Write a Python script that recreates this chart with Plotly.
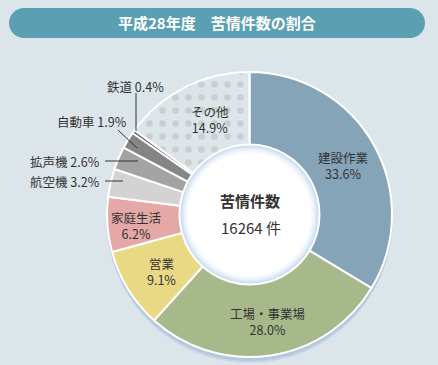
import plotly.graph_objects as go

# ---- data ----
categories = ["建設作業", "工場・事業場", "営業", "家庭生活", "航空機", "拡声機", "自動車", "鉄道", "その他"]
shares = [33.6, 28.0, 9.1, 6.2, 3.2, 2.6, 1.9, 0.4, 14.9]
total_cases = 16264
title_text = "平成28年度　苦情件数の割合"
center_title = "苦情件数"

# ---- style ----
W, H = 438, 365
CX, CY, R, RH = 249.5, 214.5, 142.5, 70
BG = "#dbe5ea"
colors = ["#85a4b8", "#a7b98b", "#e9d884", "#e4a8a7", "#d3d3d3", "#a3a3a3", "#858585", "#5f5f5f", "#ffffff"]
patterns = ["", "", "", "", "", "", "", "", "."]
FONT = "Noto Sans CJK JP"
TXT = "#333333"

def px(x):
    return x / W

def py(y):
    return 1 - y / H

fig = go.Figure(go.Pie(
    labels=categories,
    values=shares,
    sort=False,
    direction="clockwise",
    rotation=0,
    hole=RH / R,
    textinfo="none",
    hoverinfo="skip",
    showlegend=False,
    marker=dict(
        colors=colors,
        line=dict(color="white", width=2),
        pattern=dict(shape=patterns, fgcolor="#cdcdcd", size=13, solidity=0.2),
    ),
    domain=dict(x=[px(CX - R), px(CX + R)], y=[py(CY + R), py(CY - R)]),
))

shapes = []
# shadow under pie
for dy, rr, col in [(6, R, "rgba(160,190,215,0.35)"), (3, R + 1, "rgba(140,172,205,0.35)")]:
    shapes.append(dict(type="circle", xref="paper", yref="paper", layer="below",
                       x0=px(CX - rr), x1=px(CX + rr), y0=py(CY + dy + rr), y1=py(CY + dy - rr),
                       fillcolor=col, line=dict(width=0)))
# white hole with soft blue glow at the rim
for rr, col in [(RH + 1, "#c6daee"), (RH - 2, "#d9e7f5"), (RH - 4, "#e9f1fa"), (RH - 6, "#f5f9fd"), (RH - 8, "#ffffff")]:
    shapes.append(dict(type="circle", xref="paper", yref="paper", layer="below",
                       x0=px(CX - rr), x1=px(CX + rr), y0=py(CY + rr), y1=py(CY - rr),
                       fillcolor=col, line=dict(width=0)))

# title pill
x0, x1, y0, y1 = 9, 425, 8, 38
r = (y1 - y0) / 2
k = 0.5523 * r
def P(x, y):
    return f"{px(x):.5f},{py(y):.5f}"
path = (f"M {P(x0 + r, y0)} L {P(x1 - r, y0)} "
        f"C {P(x1 - r + k, y0)} {P(x1, y0 + r - k)} {P(x1, y0 + r)} "
        f"C {P(x1, y1 - r + k)} {P(x1 - r + k, y1)} {P(x1 - r, y1)} "
        f"L {P(x0 + r, y1)} "
        f"C {P(x0 + r - k, y1)} {P(x0, y1 - r + k)} {P(x0, y1 - r)} "
        f"C {P(x0, y0 + r - k)} {P(x0 + r - k, y0)} {P(x0 + r, y0)} Z")
shapes.append(dict(type="path", xref="paper", yref="paper", path=path,
                   fillcolor="#5b9fb3", line=dict(width=0), layer="below"))

# leader lines for small slices
leader_lines = {
    "鉄道": [(136, 93), (136, 131)],
    "自動車": [(118, 130), (137, 148)],
    "拡声機": [(105, 161), (138, 161)],
    "航空機": [(105, 181), (123, 181)],
}
for (ax, ay), (bx, by) in leader_lines.values():
    shapes.append(dict(type="line", xref="paper", yref="paper",
                       x0=px(ax), y0=py(ay), x1=px(bx), y1=py(by),
                       line=dict(color=TXT, width=1)))

def ann(x, y, text, size, color=TXT, xanchor="center"):
    return dict(x=px(x), y=py(y), xref="paper", yref="paper", text=text,
                showarrow=False, xanchor=xanchor, yanchor="middle", align="center",
                font=dict(family=FONT, size=size, color=color))

annotations = [
    ann(217, 23, f"<b>{title_text}</b>", 15, "white"),
    ann(250, 200, f"<b>{center_title}</b>", 15),
    ann(251, 227, f"{total_cases} 件", 15),
]

inside_pos = {
    "建設作業": (343, 165),
    "工場・事業場": (267, 321),
    "営業": (161, 271),
    "家庭生活": (136, 225),
    "その他": (210, 119),
}
outside_pos = {
    "鉄道": (135, 86, "center"),
    "自動車": (129, 121, "right"),
    "拡声機": (102, 161, "right"),
    "航空機": (102, 181, "right"),
}
for cat, val in zip(categories, shares):
    if cat in inside_pos:
        x, y = inside_pos[cat]
        annotations.append(ann(x, y, f"{cat}<br>{val:.1f}%", 12.5))
    else:
        x, y, anc = outside_pos[cat]
        annotations.append(ann(x, y, f"{cat} {val:.1f}%", 12.5, xanchor=anc))

fig.update_layout(
    width=W, height=H,
    margin=dict(l=0, r=0, t=0, b=0),
    paper_bgcolor=BG, plot_bgcolor=BG,
    shapes=shapes, annotations=annotations,
)

fig.write_html("out.html", config={"displayModeBar": False},
               post_script="document.body.style.margin='0';document.body.style.padding='0';")
